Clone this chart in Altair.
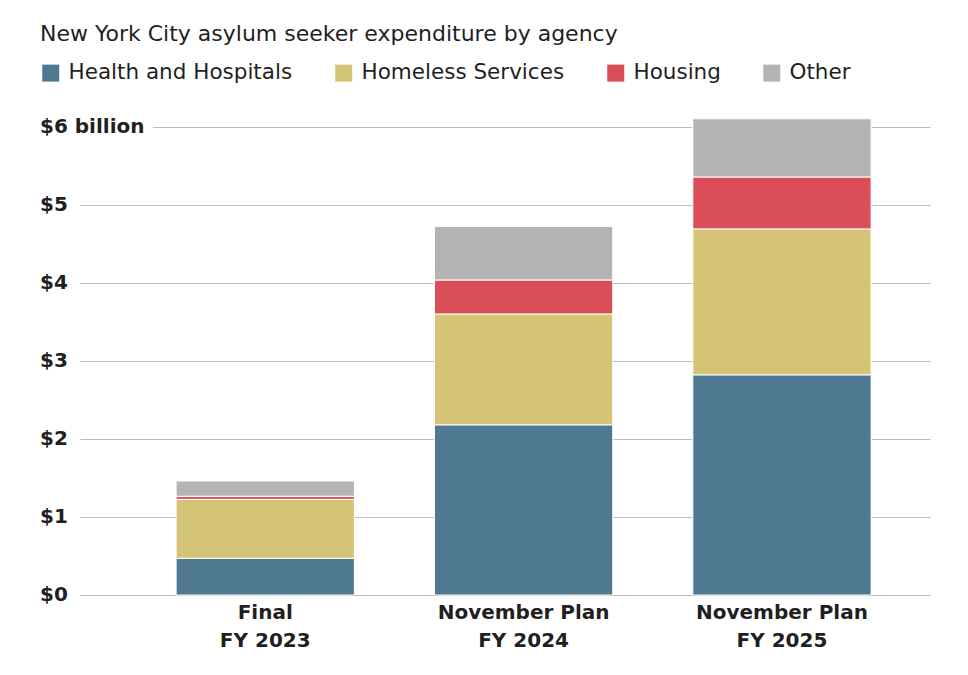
import altair as alt
import pandas as pd

categories = ["Final\nFY 2023", "November Plan\nFY 2024", "November Plan\nFY 2025"]
agencies = ["Health and Hospitals", "Homeless Services", "Housing", "Other"]
health = [0.47, 2.18, 2.82]
homeless = [0.755, 1.42, 1.87]
housing = [0.04, 0.435, 0.665]
other = [0.195, 0.685, 0.745]
colors = ["#4f7891", "#d5c476", "#da4f57", "#b3b3b3"]
tick_values = [0, 1, 2, 3, 4, 5, 6]
tick_labels = ["$0", "$1", "$2", "$3", "$4", "$5", "$6 billion"]

rows = []
for ai, (name, vals) in enumerate(zip(agencies, [health, homeless, housing, other])):
    for c, v in zip(categories, vals):
        rows.append({"category": c, "agency": name, "value": v, "order": ai})
df = pd.DataFrame(rows)
ticks = pd.DataFrame({"value": tick_values, "label": tick_labels})

FONT = "DejaVu Sans"
TEXT = "#1f1f1f"
yscale = alt.Scale(domain=[0, 6.2], nice=False, zero=True)
yaxis = alt.Axis(
    title=None,
    values=tick_values,
    labels=False,
    ticks=False,
    domain=False,
    grid=True,
    gridColor="#bdbdbd",
    gridWidth=1,
)

bars = alt.Chart(df).mark_bar(stroke="white", strokeWidth=1).encode(
    x=alt.X(
        "category:N",
        sort=categories,
        scale=alt.Scale(paddingInner=0.31, paddingOuter=0.3, align=0.62),
        axis=alt.Axis(
            title=None,
            labelExpr="split(datum.label, '\\n')",
            labelAngle=0,
            labelFont=FONT,
            labelFontSize=20,
            labelFontWeight="bold",
            labelColor=TEXT,
            labelLineHeight=28,
            labelPadding=7,
            domain=False,
            ticks=False,
        ),
    ),
    y=alt.Y("value:Q", stack="zero", scale=yscale, axis=yaxis),
    color=alt.Color(
        "agency:N",
        sort=agencies,
        scale=alt.Scale(domain=agencies, range=colors),
        legend=alt.Legend(
            title=None,
            orient="none",
            legendX=-40,
            legendY=-49,
            direction="horizontal",
            symbolType="square",
            symbolSize=289,
            symbolStrokeWidth=0,
            symbolOpacity=1,
            labelFont=FONT,
            labelFontSize=21.5,
            labelColor=TEXT,
            labelOffset=7,
            labelLimit=0,
            columnPadding=40,
        ),
    ),
    order=alt.Order("order:Q", sort="ascending"),
)

halo = alt.Chart(ticks).mark_text(
    align="left", baseline="middle", font=FONT, fontSize=20, fontWeight="bold",
    stroke="white", strokeWidth=20, strokeJoin="round", fill="white",
).encode(
    x=alt.value(-40),
    y=alt.Y("value:Q", scale=yscale, axis=yaxis),
    text="label:N",
)

ylabels = alt.Chart(ticks).mark_text(
    align="left", baseline="middle", font=FONT, fontSize=20, fontWeight="bold", color=TEXT,
).encode(
    x=alt.value(-40),
    y=alt.Y("value:Q", scale=yscale, axis=yaxis),
    text="label:N",
)

chart = alt.layer(bars, halo, ylabels).properties(
    width=850,
    height=484,
    title=alt.TitleParams(
        "New York City asylum seeker expenditure by agency",
        anchor="start",
        font=FONT,
        fontSize=22,
        fontWeight="normal",
        color=TEXT,
        offset=16,
    ),
    autosize=alt.AutoSizeParams(type="none"),
    padding={"left": 72, "top": 103, "right": 30, "bottom": 72},
).configure_view(stroke=None)

chart.save("out.html", embed_options={"renderer": "svg", "actions": False})
